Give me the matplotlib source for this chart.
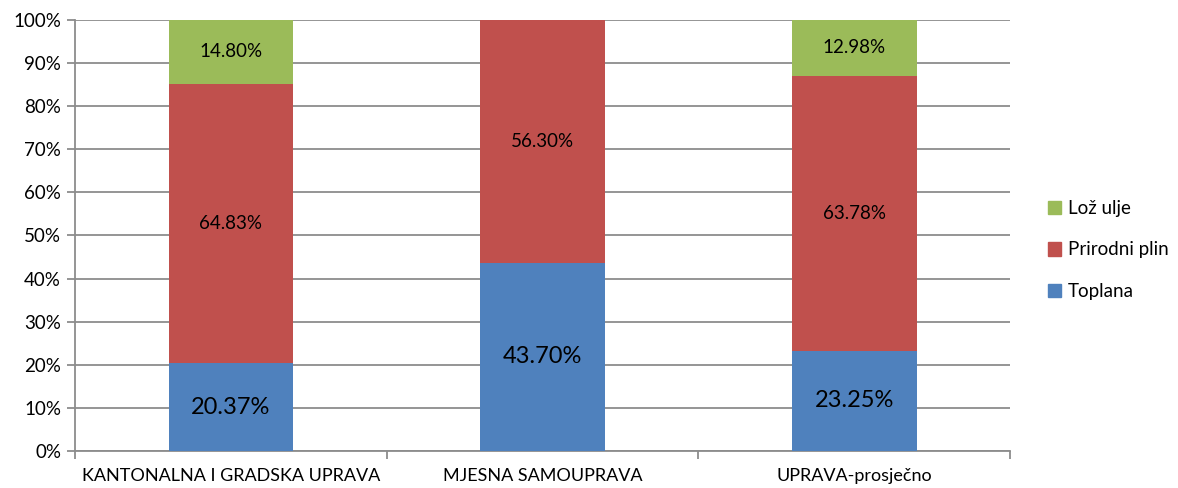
import matplotlib
matplotlib.use("Agg")
import matplotlib.pyplot as plt
from matplotlib.patches import Patch
from matplotlib.ticker import PercentFormatter, FixedLocator

plt.rcParams["font.family"] = ["Lato", "DejaVu Sans"]

categories = ["KANTONALNA I GRADSKA UPRAVA", "MJESNA SAMOUPRAVA", "UPRAVA-prosječno"]
series = ["Toplana", "Prirodni plin", "Lož ulje"]
toplana = [20.37, 43.70, 23.25]
plin = [64.83, 56.30, 63.78]
loz = [14.80, 0.0, 12.98]
colors = ["#4F81BD", "#C0504D", "#9BBB59"]
GRID = "#8c8c8c"

fig = plt.figure(figsize=(11.78, 4.88), dpi=100)
ax = fig.add_axes([75 / 1178, 1 - 451 / 488, 935 / 1178, 431 / 488])

x = list(range(len(categories)))
bottom = [0.0] * len(x)
for name, vals, col in zip(series, [toplana, plin, loz], colors):
    bars = ax.bar(x, vals, width=0.4, bottom=bottom, color=col, zorder=3)
    for b, v, b0 in zip(bars, vals, bottom):
        if v <= 0:
            continue
        big = name == "Toplana"
        ax.text(b.get_x() + b.get_width() / 2, b0 + v / 2, f"{v:.2f}%",
                ha="center", va="center", fontsize=17 if big else 13.5,
                color="black", zorder=4)
    bottom = [a + v for a, v in zip(bottom, vals)]

ax.set_xlim(-0.5, len(x) - 0.5)
ax.set_ylim(0, 100)
ax.set_yticks(range(0, 101, 10))
ax.yaxis.set_major_formatter(PercentFormatter(decimals=0))
ax.grid(axis="y", color=GRID, linewidth=1.3, zorder=0)
ax.set_axisbelow(True)

ax.set_xticks(x)
ax.set_xticklabels(categories)
ax.xaxis.set_minor_locator(FixedLocator([i - 0.5 for i in range(len(x) + 1)]))
ax.tick_params(axis="x", which="major", length=0, pad=12, labelsize=13)
ax.tick_params(axis="x", which="minor", length=6, color=GRID, width=1.3)
ax.tick_params(axis="y", length=6, color=GRID, width=1.3, labelsize=13.5, pad=4)

for side in ("top", "right"):
    ax.spines[side].set_visible(False)
for side in ("left", "bottom"):
    ax.spines[side].set_color(GRID)
    ax.spines[side].set_linewidth(1.3)

handles = [Patch(color=c, label=s) for s, c in zip(series, colors)][::-1]
fig.legend(handles=handles, loc="center left", bbox_to_anchor=(1031 / 1178, 1 - 250 / 488),
           frameon=False, fontsize=13.5, handlelength=0.7, handleheight=0.7,
           handletextpad=0.35, labelspacing=1.3)

fig.savefig("out.png", dpi=100)
